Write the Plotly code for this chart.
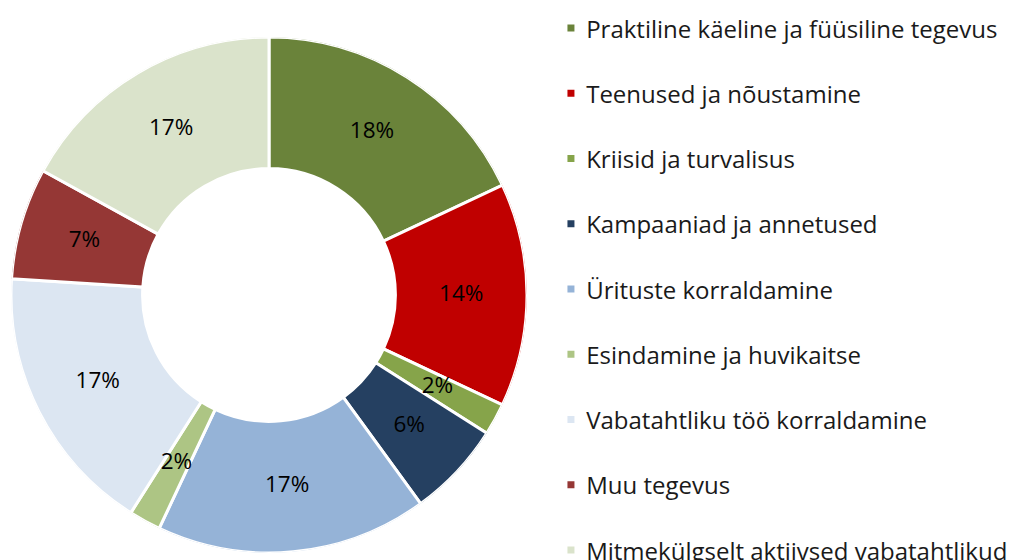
import plotly.graph_objects as go

categories = [
    "Praktiline käeline ja füüsiline tegevus",
    "Teenused ja nõustamine",
    "Kriisid ja turvalisus",
    "Kampaaniad ja annetused",
    "Ürituste korraldamine",
    "Esindamine ja huvikaitse",
    "Vabatahtliku töö korraldamine",
    "Muu tegevus",
    "Mitmekülgselt aktiivsed vabatahtlikud",
]
values = [18, 14, 2, 6, 17, 2, 17, 7, 17]
colors = ["#6A833A", "#C00000", "#86A44A", "#254061", "#95B3D7",
          "#ADC584", "#DCE6F2", "#953735", "#DAE3CB"]

FONT = "Open Sans"
W, H = 1015, 560
OFF = 8  # page body margin in the browser
ROW = 65.25  # legend row pitch in px

total = sum(values)
widths = [v / total * 360 for v in values]
thetas = []
acc = 0
for w in widths:
    thetas.append(acc + w / 2)
    acc += w
labels = [f"{round(v / total * 100)}%" for v in values]

fig = go.Figure()

# donut ring
fig.add_trace(go.Barpolar(
    theta=thetas, width=widths, r=[0.51] * len(values), base=[0.49] * len(values),
    marker=dict(color=colors, line=dict(color="white", width=3)),
    showlegend=False, hoverinfo="skip", subplot="polar",
))
# percentage labels
fig.add_trace(go.Scatterpolar(
    theta=thetas, r=[0.745] * len(values), mode="text", text=labels,
    textfont=dict(family=FONT, size=22.5, color="black"),
    textposition="middle center", showlegend=False, hoverinfo="skip", subplot="polar",
))

# legend (markers + text on hidden category axes)
fig.add_trace(go.Scatter(
    x=[0] * len(categories), y=categories, mode="markers",
    marker=dict(symbol="square", size=7, color=colors, line=dict(width=0)),
    showlegend=False, hoverinfo="skip", cliponaxis=False,
))
fig.add_trace(go.Scatter(
    x=[1.15] * len(categories), y=categories, mode="text", text=categories,
    textposition="middle right",
    textfont=dict(family=FONT, size=24, color="#1a1a1a"),
    showlegend=False, hoverinfo="skip", cliponaxis=False, yaxis="y2",
))

y_hi = 8 + (H - (550 - OFF)) / ROW
y_lo = -(28 - OFF) / ROW
shift = 3.6 / ROW

fig.update_layout(
    width=W, height=H,
    margin=dict(l=0, r=0, t=0, b=0),
    paper_bgcolor="white", plot_bgcolor="white",
    showlegend=False,
    polar=dict(
        domain=dict(x=[(11 - OFF) / W, (527 - OFF) / W],
                    y=[1 - (553 - OFF) / H, 1 - (37 - OFF) / H]),
        bgcolor="rgba(0,0,0,0)",
        bargap=0,
        radialaxis=dict(range=[0, 1], visible=False, showgrid=False),
        angularaxis=dict(rotation=90, direction="clockwise", visible=False,
                         showgrid=False, showline=False, ticks=""),
    ),
    xaxis=dict(domain=[(557.7 - OFF) / W, 1], range=[-1, 34.13], visible=False, fixedrange=True),
    yaxis=dict(domain=[0, 1], type="category", categoryarray=categories,
               range=[y_hi, y_lo], visible=False, fixedrange=True),
    yaxis2=dict(domain=[0, 1], type="category", categoryarray=categories, overlaying="y",
                range=[y_hi - shift, y_lo - shift], visible=False, fixedrange=True),
    font=dict(family=FONT),
)

fig.write_html("out.html")
